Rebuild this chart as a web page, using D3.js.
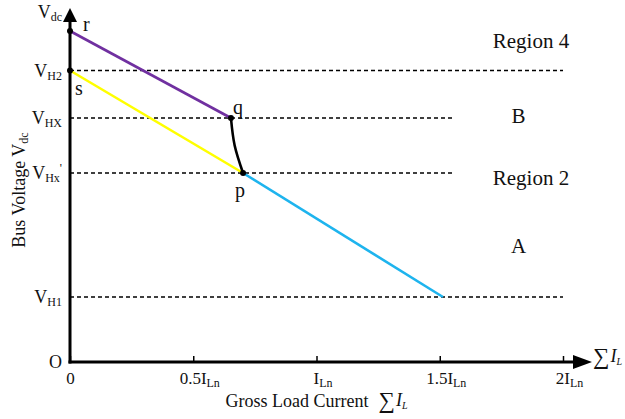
<!DOCTYPE html>
<html>
<head>
<meta charset="utf-8">
<script src="https://cdn.jsdelivr.net/npm/d3@7"></script>
<style>
  body { margin: 0; background: #fff; }
  text { font-family: "Liberation Serif", "Times New Roman", serif; fill: #111; }
</style>
</head>
<body>
<div id="chart"></div>
<script>
// data (x in I_Ln, y in arbitrary voltage units)
var xTickValues = [0, 0.5, 1, 1.5, 2];
var xTickMain = ["0", "0.5I", "I", "1.5I", "2I"];
var xTickSub = ["", "Ln", "Ln", "Ln", "Ln"];

var yTickValues = [0, 0.65, 1.89, 2.44, 2.915, 3.5];
var yTickMain = ["O", "V", "V", "V", "V", "V"];
var yTickSub = ["", "H1", "Hx", "HX", "H2", "dc"];
var yTickSup = ["", "", "'", "", "", ""];

var dashLevels = [0.65, 1.89, 2.44, 2.915];
var dashEnds = [2.0, 1.553, 1.553, 2.0];

var purpleLine = [[0, 3.31], [0.653, 2.44]];     // r -> q
var yellowLine = [[0, 2.915], [0.702, 1.89]];    // s -> p
var blueLine = [[0.702, 1.89], [1.513, 0.65]];   // p -> end
var blackCurve = [[0.653, 2.44], [0.668, 2.165], [0.702, 1.89]]; // q -> p

var pointNames = ["r", "s", "q", "p"];
var pointValues = [[0, 3.31], [0, 2.915], [0.653, 2.44], [0.702, 1.89]];

var regionNames = ["Region 4", "B", "Region 2", "A"];

// ==============================
var svgWidth = 625, svgHeight = 419;
var svg = d3.select("#chart").append("svg")
  .attr("width", svgWidth)
  .attr("height", svgHeight);

var x = d3.scaleLinear().domain([0, 2]).range([70, 563]);
var y = d3.scaleLinear().domain([0, 3.5]).range([362, 12]);

// dashed level lines
svg.append("g").selectAll("line")
  .data(dashLevels)
  .enter()
  .append("line")
  .attr("x1", x(0))
  .attr("x2", (d, i) => x(dashEnds[i]))
  .attr("y1", d => y(d))
  .attr("y2", d => y(d))
  .attr("stroke", "#000")
  .attr("stroke-width", 1.4)
  .attr("stroke-dasharray", "4,3");

// colored characteristic lines
var line = d3.line().x(d => x(d[0])).y(d => y(d[1]));
[[purpleLine, "#7030a0"], [yellowLine, "#ffff00"], [blueLine, "#1eb4ee"]].forEach(function(s) {
  svg.append("path")
    .attr("d", line(s[0]))
    .attr("fill", "none")
    .attr("stroke", s[1])
    .attr("stroke-width", 2.6);
});

svg.append("path")
  .attr("d", line.curve(d3.curveNatural)(blackCurve))
  .attr("fill", "none")
  .attr("stroke", "#000")
  .attr("stroke-width", 2.6);

// axes
var bottomAxis = d3.axisBottom(x)
  .tickValues(xTickValues)
  .tickSizeInner(-6)
  .tickSizeOuter(0)
  .tickPadding(10)
  .tickFormat("");

var xAxisG = svg.append("g")
  .attr("transform", `translate(0, ${y(0)})`)
  .call(bottomAxis);
xAxisG.select(".domain").remove();
xAxisG.selectAll(".tick line").attr("stroke-width", 1.5);
xAxisG.selectAll(".tick text").each(function(d, i) {
  var t = d3.select(this)
    .attr("font-size", 17)
    .attr("fill", "#111")
    .attr("dx", xTickSub[i] ? 6 : 0);
  t.append("tspan").text(xTickMain[i]);
  if (xTickSub[i]) t.append("tspan").attr("font-size", 12).attr("dy", 3).text(xTickSub[i]);
});

var leftAxis = d3.axisLeft(y)
  .tickValues(yTickValues)
  .tickSize(0)
  .tickPadding(8)
  .tickFormat("");

var yAxisG = svg.append("g")
  .attr("transform", `translate(${x(0)}, 0)`)
  .call(leftAxis);
yAxisG.select(".domain").remove();
yAxisG.selectAll(".tick text").each(function(d, i) {
  var t = d3.select(this).attr("font-size", 18).attr("fill", "#111");
  t.append("tspan").text(yTickMain[i]);
  if (yTickSub[i]) t.append("tspan").attr("font-size", 12).attr("dy", 3).text(yTickSub[i]);
  if (yTickSup[i]) t.append("tspan").attr("font-size", 12).attr("dy", -10).text(yTickSup[i]);
});

// axis lines with arrows
svg.append("line")
  .attr("x1", x(0)).attr("x2", x(0))
  .attr("y1", y(0) + 1.5).attr("y2", 20)
  .attr("stroke", "#000").attr("stroke-width", 3);
svg.append("path")
  .attr("d", `M${x(0)},8 L${x(0) - 7},22 L${x(0) + 7},22 Z`)
  .attr("fill", "#000");

svg.append("line")
  .attr("x1", x(0) - 1.5).attr("x2", 576)
  .attr("y1", y(0)).attr("y2", y(0))
  .attr("stroke", "#000").attr("stroke-width", 3);
svg.append("path")
  .attr("d", `M592,${y(0)} L573,${y(0) - 7} L573,${y(0) + 7} Z`)
  .attr("fill", "#000");

// sum I_L at the arrow tip
var sumEnd = svg.append("text")
  .attr("x", 593).attr("y", y(0) + 2)
  .attr("font-size", 18);
sumEnd.append("tspan").attr("font-size", 23).text("\u2211");
sumEnd.append("tspan").attr("font-style", "italic").attr("dx", 1).attr("dy", -2).text("I");
sumEnd.append("tspan").attr("font-style", "italic").attr("font-size", 10).attr("dy", 3).text("L");

// points
svg.append("g").selectAll("circle")
  .data(pointValues)
  .enter()
  .append("circle")
  .attr("cx", d => x(d[0]))
  .attr("cy", d => y(d[1]))
  .attr("r", 3)
  .attr("fill", "#000");

var pointOffsets = [[13, 0], [5, 24], [2, -4], [-8, 24]];
svg.append("g").selectAll("text")
  .data(pointValues)
  .enter()
  .append("text")
  .attr("x", (d, i) => x(d[0]) + pointOffsets[i][0])
  .attr("y", (d, i) => y(d[1]) + pointOffsets[i][1])
  .attr("font-size", 20)
  .text((d, i) => pointNames[i]);

// region labels
var regionPos = [[1.87, 3.14], [1.82, 2.39], [1.87, 1.77], [1.82, 1.09]];
svg.append("g").selectAll("text")
  .data(regionNames)
  .enter()
  .append("text")
  .attr("x", (d, i) => x(regionPos[i][0]))
  .attr("y", (d, i) => y(regionPos[i][1]))
  .attr("text-anchor", "middle")
  .attr("font-size", 21)
  .text(d => d);

// axis titles
var xTitle = svg.append("text")
  .attr("x", x(1))
  .attr("y", 407)
  .attr("text-anchor", "middle")
  .attr("font-size", 18);
xTitle.append("tspan").text("Gross Load Current");
xTitle.append("tspan").attr("dx", 10).attr("dy", 1).attr("font-size", 23).text("\u2211");
xTitle.append("tspan").attr("font-style", "italic").attr("dx", 1).attr("dy", -2).text("I");
xTitle.append("tspan").attr("font-style", "italic").attr("font-size", 10).attr("dy", 3).text("L");

var yTitle = svg.append("text")
  .attr("transform", `translate(25, 190) rotate(-90)`)
  .attr("text-anchor", "middle")
  .attr("font-size", 18);
yTitle.append("tspan").text("Bus Voltage V");
yTitle.append("tspan").attr("font-size", 12).attr("dy", 3).text("dc");
</script>
</body>
</html>
